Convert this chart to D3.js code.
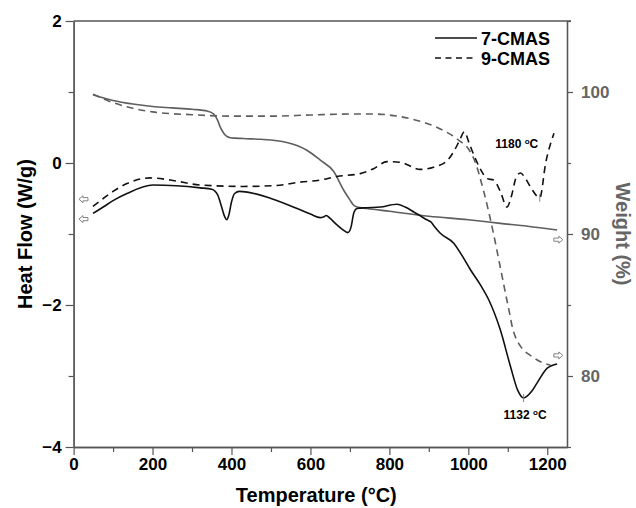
<!DOCTYPE html>
<html><head><meta charset="utf-8">
<script src="https://cdn.jsdelivr.net/npm/d3@7"></script>
<style>
body{margin:0;background:#fff;}
svg{display:block;font-family:"Liberation Sans",Arial,sans-serif;}
</style></head>
<body><svg id="c" width="636" height="508"></svg>
<script>
// ---- data ----
const seriesNames = ["7-CMAS", "9-CMAS"];
// DSC 7-CMAS (Heat flow, W/g)
const dsc7T  = [49,75,100,135,201,260,321,350,365,375,383,388,393,400,408,420,440,500,574,600,625,633,640,650,665,680,695,703,710,718,743,777,819,840,862,880,895,905,915,929,963,988,1005,1031,1052,1081,1107,1125,1140,1160,1174,1200,1225];
const dsc7HF = [-0.71,-0.62,-0.53,-0.43,-0.31,-0.32,-0.35,-0.37,-0.45,-0.62,-0.76,-0.80,-0.74,-0.55,-0.43,-0.40,-0.41,-0.50,-0.66,-0.72,-0.77,-0.76,-0.74,-0.78,-0.86,-0.93,-0.98,-0.90,-0.70,-0.64,-0.63,-0.62,-0.58,-0.62,-0.69,-0.75,-0.80,-0.83,-0.90,-0.99,-1.13,-1.34,-1.50,-1.72,-1.93,-2.35,-2.87,-3.20,-3.31,-3.22,-3.10,-2.89,-2.83];
// DSC 9-CMAS
const dsc9T  = [49,75,100,135,194,245,321,430,506,574,625,667,726,760,794,828,878,912,946,965,978,990,1002,1015,1030,1048,1064,1081,1098,1110,1120,1132,1145,1160,1181,1196,1217];
const dsc9HF = [-0.61,-0.50,-0.40,-0.29,-0.21,-0.24,-0.31,-0.33,-0.32,-0.27,-0.24,-0.19,-0.15,-0.08,0.02,0.01,-0.09,-0.06,0.03,0.18,0.32,0.44,0.28,0.10,-0.08,-0.22,-0.24,-0.40,-0.62,-0.45,-0.22,-0.14,-0.22,-0.36,-0.49,0.0,0.42];
// TGA 7-CMAS (Weight, %)
const tga7T = [49,100,150,200,250,300,340,355,365,371,378,384,390,397,430,473,540,591,625,659,684,700,709,718,743,800,900,1000,1081,1150,1225];
const tga7W = [99.8,99.4,99.15,98.98,98.88,98.78,98.65,98.45,98.0,97.56,97.2,96.97,96.85,96.78,96.72,96.67,96.45,95.9,95.2,94.4,93.1,92.4,92.04,91.9,91.8,91.6,91.25,91.0,90.75,90.55,90.28];
// TGA 9-CMAS
const tga9T = [49,100,150,200,300,400,500,600,700,760,820,870,929,976,1000,1014,1039,1064,1080,1098,1104,1111,1120,1132,1160,1183,1208];
const tga9W = [99.85,99.25,98.85,98.6,98.4,98.3,98.3,98.38,98.45,98.45,98.3,98.0,97.4,96.6,96.0,95.3,93.0,90.0,87.8,85.3,84.5,83.5,82.7,82.1,81.4,81.0,80.77];
// peak annotations
const peakT   = [1140, 1181];
const peakHF  = [-3.31, -0.49];
const peakLbl = ["1132", "1180"];
// axis ticks
const xMajor = [0,200,400,600,800,1000,1200];
const xMinor = [100,300,500,700,900,1100];
const yLMajor = [-4,-2,0,2];
const yLMinor = [-3,-1,1];
const yRMajor = [80,90,100];
const yRMinor = [75,85,95,105];
// axis-direction arrows
const arrowLeftHF = [-0.51, -0.79];
const arrowRightW = [89.6, 81.45];

// ---- chart ----
const svg = d3.select("#c");
const X0 = 73.6, X1 = 567, Y0 = 447, Y1 = 21;
const x  = d3.scaleLinear().domain([0,1250]).range([X0,X1]);
const yL = d3.scaleLinear().domain([-4,2]).range([Y0,Y1]);
const yR = d3.scaleLinear().domain([75,105]).range([Y0,Y1]);
const axisCol = "#555";
const fmt = d3.format("d");

function styleAxis(g, col){
  g.selectAll(".domain").attr("stroke",axisCol).attr("stroke-width",1.3);
  g.selectAll(".tick line").attr("stroke",axisCol).attr("stroke-width",1.2);
  g.selectAll(".tick text").attr("fill",col).attr("font-weight","bold").attr("font-size",17)
    .attr("font-family","Liberation Sans, Arial, sans-serif");
}
// top frame
svg.append("line").attr("x1",X0).attr("x2",X1+4).attr("y1",Y1).attr("y2",Y1).attr("stroke",axisCol).attr("stroke-width",1.3);

// x axis
const gx = svg.append("g").attr("transform",`translate(0,${Y0})`)
  .call(d3.axisBottom(x).tickValues(xMajor).tickSize(8).tickSizeOuter(0).tickPadding(3).tickFormat(fmt));
styleAxis(gx,"#000");
const gx2 = svg.append("g").attr("transform",`translate(0,${Y0})`)
  .call(d3.axisBottom(x).tickValues(xMinor).tickSize(5).tickFormat("").tickSizeOuter(0));
styleAxis(gx2,"#000");
// left axis
const gl = svg.append("g").attr("transform",`translate(${X0},0)`)
  .call(d3.axisLeft(yL).tickValues(yLMajor).tickSize(8).tickSizeOuter(0).tickPadding(4).tickFormat(fmt));
styleAxis(gl,"#000");
const gl2 = svg.append("g").attr("transform",`translate(${X0},0)`)
  .call(d3.axisLeft(yL).tickValues(yLMinor).tickSize(5).tickFormat("").tickSizeOuter(0));
styleAxis(gl2,"#000");
// right axis
const gr = svg.append("g").attr("transform",`translate(${X1},0)`)
  .call(d3.axisRight(yR).tickValues(yRMajor).tickSize(6).tickSizeOuter(0).tickPadding(8).tickFormat(fmt));
styleAxis(gr,"#666");
const gr2 = svg.append("g").attr("transform",`translate(${X1},0)`)
  .call(d3.axisRight(yR).tickValues(yRMinor).tickSize(4).tickFormat("").tickSizeOuter(0));
styleAxis(gr2,"#666");

// axis titles
svg.append("text").attr("x",(X0+X1)/2-4).attr("y",502).attr("text-anchor","middle")
  .attr("font-weight","bold").attr("font-size",20).attr("fill","#000").text("Temperature (°C)");
svg.append("text").attr("transform",`translate(32,${(Y0+Y1)/2}) rotate(-90)`).attr("text-anchor","middle")
  .attr("font-weight","bold").attr("font-size",20).attr("fill","#000").text("Heat Flow (W/g)");
svg.append("text").attr("transform",`translate(616,${(Y0+Y1)/2}) rotate(90)`).attr("text-anchor","middle")
  .attr("font-weight","bold").attr("font-size",20).attr("fill","#666").text("Weight (%)");

// lines
const lineL = d3.line().x(d=>x(d[0])).y(d=>yL(d[1])).curve(d3.curveMonotoneX);
const lineR = d3.line().x(d=>x(d[0])).y(d=>yR(d[1])).curve(d3.curveMonotoneX);
const zip = (a,b)=>a.map((v,i)=>[v,b[i]]);

svg.append("path").datum(zip(tga7T,tga7W)).attr("d",lineR).attr("fill","none")
  .attr("stroke","#5e5e5e").attr("stroke-width",1.6);
svg.append("path").datum(zip(tga9T,tga9W)).attr("d",lineR).attr("fill","none")
  .attr("stroke","#5e5e5e").attr("stroke-width",1.6).attr("stroke-dasharray","7,5");
svg.append("path").datum(zip(dsc7T,dsc7HF)).attr("d",lineL).attr("fill","none")
  .attr("stroke","#111").attr("stroke-width",1.6);
svg.append("path").datum(zip(dsc9T,dsc9HF)).attr("d",lineL).attr("fill","none")
  .attr("stroke","#111").attr("stroke-width",1.6).attr("stroke-dasharray","7,5");

// peak markers and labels
peakT.forEach((t,i)=>{
  const px = x(t), py = yL(peakHF[i]);
  svg.append("line").attr("x1",px).attr("x2",px).attr("y1",py-4).attr("y2",py+4)
    .attr("stroke","#888").attr("stroke-width",1);
});
function peakLabel(cx, cy, num){
  const t = svg.append("text").attr("x",cx).attr("y",cy).attr("text-anchor","middle")
    .attr("font-weight","bold").attr("font-size",12).attr("fill","#000");
  t.append("tspan").text(num+" ");
  t.append("tspan").attr("font-size",8).attr("dy",-4).text("o");
  t.append("tspan").attr("dy",4).text("C");
}
peakLabel(x(peakT[0])+1.5, yL(peakHF[0])+21, peakLbl[0]);
peakLabel(x(peakT[1])-23, yL(peakHF[1])-50, peakLbl[1]);

// hollow arrows
function arrow(cx, cy, dir){
  const p = "M-4.5,0 L-0.5,-3.5 L-0.5,-1.6 L4.5,-1.6 L4.5,1.6 L-0.5,1.6 L-0.5,3.5 Z";
  svg.append("path").attr("d",p).attr("transform",`translate(${cx},${cy}) scale(${dir},1)`)
    .attr("fill","#fff").attr("stroke","#777").attr("stroke-width",0.9);
}
arrowLeftHF.forEach(v=>arrow(x(25), yL(v), 1));
arrowRightW.forEach(v=>arrow(x(1228), yR(v), -1));

// legend
const legY = [38, 58];
seriesNames.forEach((n,i)=>{
  svg.append("line").attr("x1",435).attr("x2",477).attr("y1",legY[i]).attr("y2",legY[i])
    .attr("stroke","#111").attr("stroke-width",1.6).attr("stroke-dasharray", i ? "6,4.5" : null);
  svg.append("text").attr("x",481).attr("y",legY[i]+6.5).attr("font-weight","bold")
    .attr("font-size",18).attr("fill","#000").text(n);
});
</script></body></html>
